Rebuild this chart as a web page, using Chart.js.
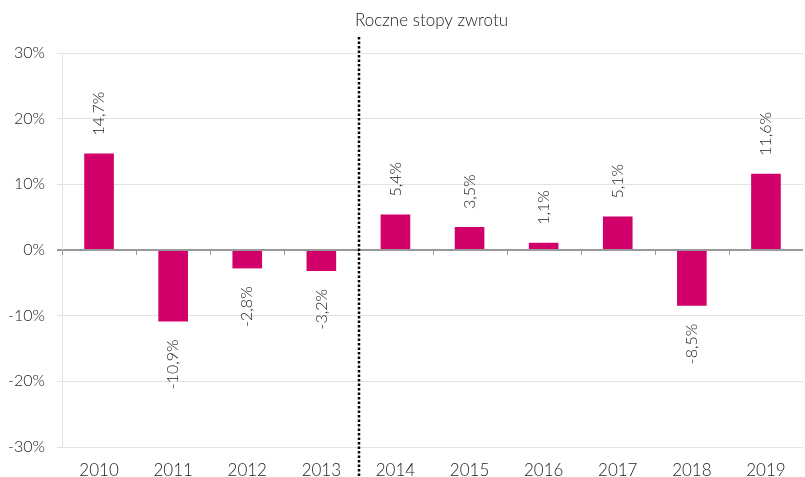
<!DOCTYPE html>
<html>
<head>
<meta charset="utf-8">
<script src="https://cdn.jsdelivr.net/npm/chart.js@4"></script>
<style>
  html, body { margin: 0; padding: 0; background: #fff; }
  #wrap { width: 805px; height: 477px; position: relative; }
</style>
</head>
<body>
<div id="wrap"><canvas id="chart"></canvas></div>
<script>
const years = ['2010', '2011', '2012', '2013', '2014', '2015', '2016', '2017', '2018', '2019'];
const returns = [14.7, -10.9, -2.8, -3.2, 5.4, 3.5, 1.1, 5.1, -8.5, 11.6];
const yTicks = [-30, -20, -10, 0, 10, 20, 30];
const titleText = 'Roczne stopy zwrotu';
const splitAfter = 3; // dotted line between 2013 and 2014

const barColor = '#D1006B';
const textColor = '#222';
const fontFamily = 'Lato, "Open Sans", sans-serif';

function fmt(v) {
    return v.toFixed(1).replace('.', ',') + '%';
}

// value labels, zero-line ticks, dotted divider and title
const extras = {
    id: 'extras',
    afterDatasetsDraw(chart) {
        const ctx = chart.ctx;
        const x = chart.scales.x;
        const y = chart.scales.y;
        const area = chart.chartArea;
        const zero = y.getPixelForValue(0);

        ctx.save();
        // ticks under zero line at category boundaries
        ctx.strokeStyle = '#999';
        ctx.lineWidth = 1;
        for (let i = 0; i < years.length; i++) {
            const bx = Math.round((i === 0 ? area.left : (x.getPixelForValue(i - 1) + x.getPixelForValue(i)) / 2)) + 0.5;
            ctx.beginPath();
            ctx.moveTo(bx, zero);
            ctx.lineTo(bx, zero + 5);
            ctx.stroke();
        }

        // value labels, rotated
        ctx.fillStyle = textColor;
        ctx.font = '300 16px ' + fontFamily;
        ctx.textBaseline = 'middle';
        returns.forEach((v, i) => {
            const px = x.getPixelForValue(i);
            const py = y.getPixelForValue(v);
            ctx.save();
            ctx.translate(px, v >= 0 ? py - 18 : py + 18);
            ctx.rotate(-Math.PI / 2);
            ctx.textAlign = v >= 0 ? 'left' : 'right';
            ctx.fillText(fmt(v), 0, 0);
            ctx.restore();
        });

        // dotted divider
        const dx = Math.round((x.getPixelForValue(splitAfter) + x.getPixelForValue(splitAfter + 1)) / 2) + 1;
        ctx.strokeStyle = '#000';
        ctx.lineWidth = 2.5;
        ctx.setLineDash([2.5, 2]);
        ctx.beginPath();
        ctx.moveTo(dx, 37);
        ctx.lineTo(dx, chart.height);
        ctx.stroke();
        ctx.setLineDash([]);

        // title
        ctx.font = '300 17px ' + fontFamily;
        ctx.textAlign = 'left';
        ctx.textBaseline = 'middle';
        ctx.fillText(titleText, dx - 4, 21);
        ctx.restore();
    }
};

new Chart(document.getElementById('chart'), {
    type: 'bar',
    data: {
        labels: years,
        datasets: [{
            data: returns,
            backgroundColor: barColor,
            borderWidth: 0,
            barPercentage: 0.8,
            categoryPercentage: 0.5
        }]
    },
    options: {
        responsive: true,
        maintainAspectRatio: false,
        animation: false,
        layout: { padding: { top: 53, right: 2, left: 0, bottom: 0 } },
        plugins: {
            legend: { display: false },
            tooltip: { enabled: false }
        },
        scales: {
            x: {
                grid: { display: false },
                border: { display: false },
                ticks: {
                    color: textColor,
                    font: { family: fontFamily, size: 17, weight: 300 },
                    padding: 5,
                    maxRotation: 0
                },
                afterFit(scale) { scale.height = 30; }
            },
            y: {
                min: -30,
                max: 30,
                afterBuildTicks(scale) {
                    scale.ticks = yTicks.map(v => ({ value: v }));
                },
                grid: {
                    color: ctx => ctx.tick && ctx.tick.value === 0 ? '#999' : '#e2e2e2',
                    lineWidth: ctx => ctx.tick && ctx.tick.value === 0 ? 2 : 1,
                    tickLength: 5,
                    drawTicks: true
                },
                border: { display: true, color: '#e2e2e2' },
                ticks: {
                    color: textColor,
                    font: { family: fontFamily, size: 16, weight: 300 },
                    padding: 12,
                    callback: v => v + '%'
                },
                afterFit(scale) { scale.width = 62; }
            }
        }
    },
    plugins: [extras]
});
</script>
</body>
</html>
